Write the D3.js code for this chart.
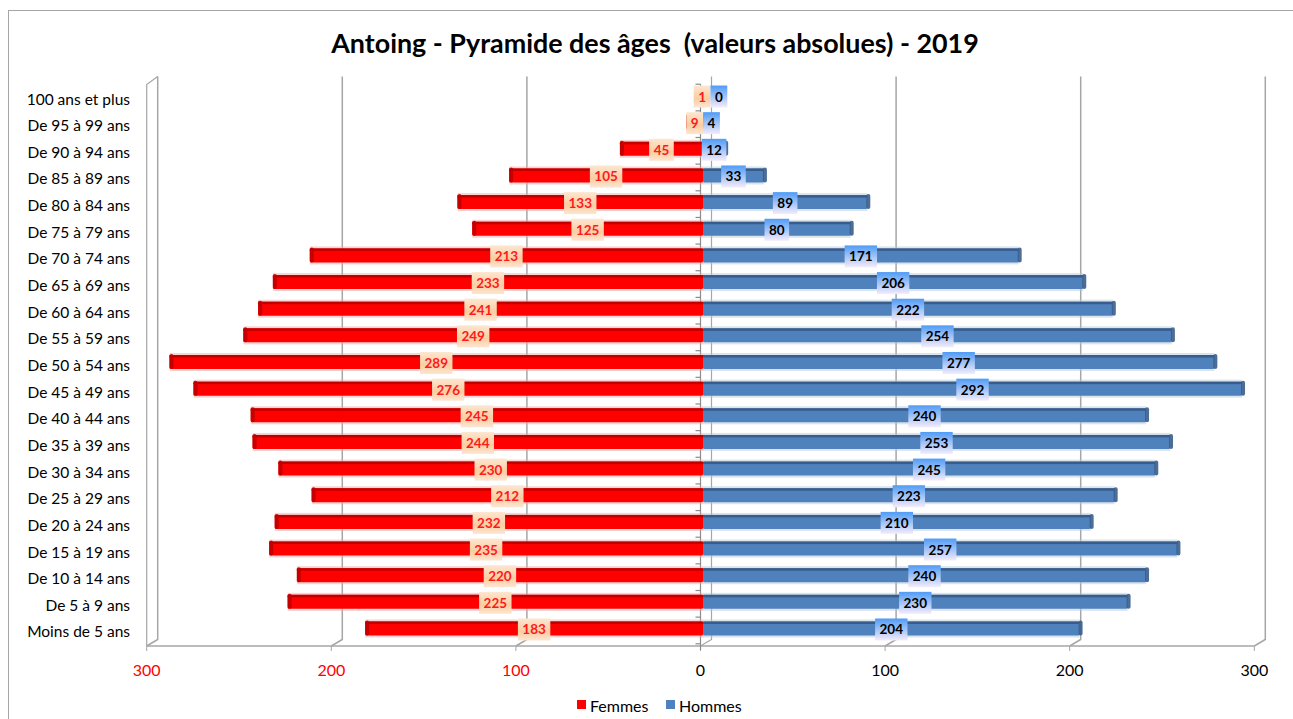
<!DOCTYPE html>
<html><head><meta charset="utf-8">
<script src="https://cdn.jsdelivr.net/npm/d3@7"></script>
<style>
html,body{margin:0;padding:0;background:#fff;}
svg{display:block;font-family:Lato,"Open Sans",sans-serif;}
</style></head>
<body>
<svg id="chart" width="1293" height="719"></svg>
<script>
const categories = ["100 ans et plus","De 95 à 99 ans","De 90 à 94 ans","De 85 à 89 ans","De 80 à 84 ans","De 75 à 79 ans","De 70 à 74 ans","De 65 à 69 ans","De 60 à 64 ans","De 55 à 59 ans","De 50 à 54 ans","De 45 à 49 ans","De 40 à 44 ans","De 35 à 39 ans","De 30 à 34 ans","De 25 à 29 ans","De 20 à 24 ans","De 15 à 19 ans","De 10 à 14 ans","De 5 à 9 ans","Moins de 5 ans"];
const femmes = [1,9,45,105,133,125,213,233,241,249,289,276,245,244,230,212,232,235,220,225,183];
const hommes = [0,4,12,33,89,80,171,206,222,254,277,292,240,253,245,223,210,257,240,230,204];
const tickValues = [-300,-200,-100,0,100,200,300];
const title = "Antoing - Pyramide des âges  (valeurs absolues) - 2019";
const seriesNames = ["Femmes","Hommes"];

const svg = d3.select("#chart");
const W = 1293, H = 719;

// outer frame
svg.append("rect").attr("x",8.5).attr("y",10.5).attr("width",W+10).attr("height",H+10)
  .attr("fill","none").attr("stroke","#a6a6a6").attr("stroke-width",1);

const defs = svg.append("defs");
const gF = defs.append("linearGradient").attr("id","gradF").attr("x1",0).attr("y1",0).attr("x2",0).attr("y2",1);
gF.append("stop").attr("offset","0%").attr("stop-color","#fde6d0");
gF.append("stop").attr("offset","60%").attr("stop-color","#f9cda2");
gF.append("stop").attr("offset","100%").attr("stop-color","#fde6d2");
const gH = defs.append("linearGradient").attr("id","gradH").attr("x1",0).attr("y1",0).attr("x2",0).attr("y2",1);
gH.append("stop").attr("offset","0%").attr("stop-color","#4f9bf6");
gH.append("stop").attr("offset","100%").attr("stop-color","#f5ecfa");

// scales: bar plane, front plane (axis labels), back plane (walls/gridlines)
const x0 = 703, half = 553.8;
const xB = d3.scaleLinear().domain([-300,300]).range([x0-half, x0+half]);
const xF = d3.scaleLinear().domain([-300,300]).range([x0-half-2.5, x0+half-2.5]);
const xK = d3.scaleLinear().domain([-300,300]).range([x0-half+8.5, x0+half+8.5]);
const y = d3.scaleBand().domain(categories).range([82.2, 641.8]).paddingInner(0.475).paddingOuter(0.2375);
const step = y.step(), bh = y.bandwidth();
const backTop = 76.5, backBot = 639.5, frontBot = 646;

// back gridlines with slant to front floor
const grid = svg.append("g");
tickValues.forEach(v => {
  grid.append("path")
    .attr("d", `M${xK(v)},${backTop} L${xK(v)},${backBot} L${xF(v)},${frontBot}`)
    .attr("fill","none").attr("stroke", "#a6a6a6").attr("stroke-width", v===0?1.2:1.5);
});
// left wall front edge
grid.append("path").attr("d",`M${xF(-300)},${frontBot} L${xF(-300)},${backTop+8} L${xK(-300)},${backTop}`)
  .attr("fill","none").attr("stroke","#a6a6a6").attr("stroke-width",1.2);
// floor front line
grid.append("line").attr("x1",xF(-300)).attr("x2",xF(300)).attr("y1",frontBot).attr("y2",frontBot)
  .attr("stroke","#a6a6a6").attr("stroke-width",1.5);
// bottom ticks
tickValues.forEach(v => {
  grid.append("line").attr("x1",xF(v)).attr("x2",xF(v)).attr("y1",frontBot).attr("y2",frontBot+5)
    .attr("stroke","#a6a6a6");
});
// zero axis front line with category ticks
grid.append("line").attr("x1",xF(0)).attr("x2",xF(0)).attr("y1",y.range()[0]+2).attr("y2",frontBot+4)
  .attr("stroke","#8c8c8c").attr("stroke-width",1.2);
d3.range(categories.length+1).forEach(i => {
  const yy = y.range()[0] + i*step + 2;
  grid.append("line").attr("x1",xF(0)-5).attr("x2",xF(0)).attr("y1",yy).attr("y2",yy)
    .attr("stroke","#8c8c8c").attr("stroke-width",1.2);
});

// bars
const bars = svg.append("g");
function drawBar(x1, x2, yc, fill, dark, halo, outerLeft) {
  const top = yc - bh/2;
  const w = Math.max(0, x2 - x1);
  bars.append("rect").attr("x",x1).attr("y",top-2).attr("width",w).attr("height",bh+4)
    .attr("fill",halo).attr("opacity",0.5);
  bars.append("rect").attr("x",x1).attr("y",top).attr("width",w).attr("height",bh)
    .attr("fill",fill).attr("rx",1.5);
  bars.append("rect").attr("x",x1).attr("y",top).attr("width",w).attr("height",2.5)
    .attr("fill",dark);
  if (w > 2) {
    const ex = outerLeft ? x1 : x2 - 1;
    bars.append("rect").attr("x",ex).attr("y",top-1).attr("width",4).attr("height",bh+1).attr("rx",2)
      .attr("fill",dark).attr("opacity",0.9);
  }
}
categories.forEach((c,i) => {
  const yc = y(c) + bh/2;
  drawBar(xB(-femmes[i]), xB(0), yc, "#ff0000", "#c00000", "#f6a8a8", true);
  drawBar(xB(0), xB(hommes[i]), yc, "#4f81bd", "#385d8a", "#b8c8dc", false);
});

// category labels
svg.append("g").selectAll("text").data(categories).join("text")
  .attr("x",130).attr("y",c => y(c)+bh/2+3).attr("text-anchor","end").attr("dominant-baseline","central")
  .attr("font-size",15.5).attr("fill","#000").text(c => c);

// x tick labels
svg.append("g").selectAll("text").data(tickValues).join("text")
  .attr("x",v => xF(v)).attr("y",669).attr("text-anchor","middle").attr("dominant-baseline","central")
  .attr("font-size",16).attr("fill",v => v<0 ? "#ff0000" : "#000").text(v => Math.abs(v));

// data labels
const labels = svg.append("g").attr("font-weight","bold").attr("font-size",13.5);
categories.forEach((c,i) => {
  const yc = y(c) + bh/2 + 1;
  const fw = String(femmes[i]).length*7.8 + 9;
  const hw = String(hommes[i]).length*7.8 + 9;
  const fc = xB(-femmes[i]/2);
  let hl = xB(hommes[i]/2) - hw/2;
  if (hl < fc + fw/2) hl = fc + fw/2;
  const hc = hl + hw/2;
  labels.append("rect").attr("x",fc-fw/2).attr("y",yc-11).attr("width",fw).attr("height",22).attr("fill","url(#gradF)");
  labels.append("text").attr("x",fc).attr("y",yc).attr("text-anchor","middle").attr("dominant-baseline","central")
    .attr("fill","#ff1a1a").text(femmes[i]);
  labels.append("rect").attr("x",hl).attr("y",yc-11).attr("width",hw).attr("height",22).attr("fill","url(#gradH)");
  labels.append("text").attr("x",hc).attr("y",yc).attr("text-anchor","middle").attr("dominant-baseline","central")
    .attr("fill","#000").text(hommes[i]);
});

// title
const t = svg.append("text").attr("x",655).attr("y",42).attr("text-anchor","middle").attr("dominant-baseline","central")
  .attr("font-weight","bold").attr("font-size",25).attr("fill","#000").style("white-space","pre").text(title);
const tl = t.node().getComputedTextLength();
t.attr("font-size", 25*648/tl);

// legend
const lg = svg.append("g").attr("font-size",16);
const legendColors = ["#ff0000","#4f81bd"];
const legendX = [577, 666];
seriesNames.forEach((n,i) => {
  lg.append("rect").attr("x",legendX[i]).attr("y",700).attr("width",9).attr("height",9).attr("fill",legendColors[i]);
  lg.append("text").attr("x",legendX[i]+13).attr("y",705).attr("dominant-baseline","central").attr("fill","#000").text(n);
});
</script>
</body></html>
